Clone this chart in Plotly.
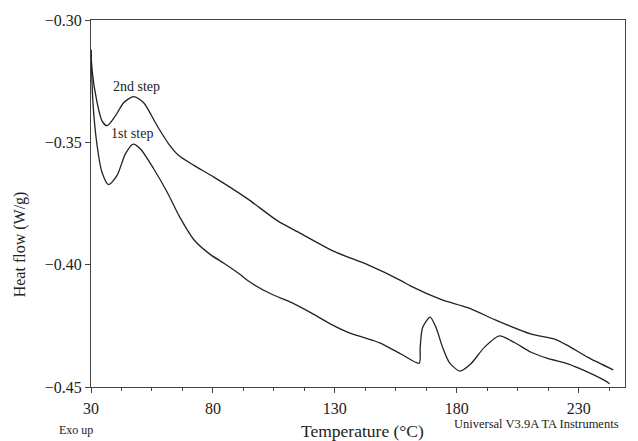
import plotly.graph_objects as go

# Temperature (°C) and heat flow (W/g)
temp_2nd = [30, 30.4, 32.5, 34.5, 36.6, 40.0, 43.4, 47.5, 51.6, 57.1, 61.9, 66.0, 72.2,
            80.4, 94.1, 106.4, 114.6, 129.7, 143.4, 157.1, 161.2, 173.5, 184.5,
            196.8, 210.6, 220.1, 225.6, 233.8, 244.2]
flow_2nd = [-0.3122, -0.3203, -0.3338, -0.3412, -0.3432, -0.3392, -0.3338, -0.3313, -0.3338,
            -0.3432, -0.3507, -0.3554, -0.3594, -0.3642, -0.3730, -0.3820, -0.3865,
            -0.3946, -0.4000, -0.4065, -0.4088, -0.4142, -0.4176, -0.4230, -0.4284, -0.4304,
            -0.4331, -0.4379, -0.4430]

temp_1st = [30, 30.8, 32.5, 34.5, 37.2, 40.7, 44.1, 47.3, 50.3, 55.7, 61.2, 66.7, 72.2,
            79.0, 84.5, 91.3, 94.7, 103.7, 111.9, 120.1, 128.3, 136.5, 146.1, 148.9, 157.1,
            164.6, 165.0, 166.0, 169.1, 171.5, 174.2, 176.9, 181.3, 185.8, 191.3, 197.5,
            203.6, 210.5, 217.3, 225.6, 232.4, 240.6, 242.7]
flow_1st = [-0.3122, -0.3338, -0.3513, -0.3622, -0.3673, -0.3635, -0.3547, -0.3507, -0.3527,
            -0.3608, -0.3703, -0.3811, -0.3898, -0.3959, -0.3994, -0.4041, -0.4068, -0.4119,
            -0.4153, -0.4196, -0.4243, -0.4281, -0.4311, -0.4322, -0.4365, -0.4403, -0.4338,
            -0.4257, -0.4214, -0.4257, -0.4338, -0.4399, -0.4435, -0.4405, -0.4338, -0.4291,
            -0.4318, -0.4358, -0.4383, -0.4405, -0.4433, -0.4473, -0.4487]

x_ticks = [30, 80, 130, 180, 230]
y_ticks = [-0.30, -0.35, -0.40, -0.45]
y_tick_text = ["\u22120.30", "\u22120.35", "\u22120.40", "\u22120.45"]

FONT = "Liberation Serif"
INK = "#222222"
AX = "#444444"

fig = go.Figure()
for t, f, name in [(temp_2nd, flow_2nd, "2nd step"), (temp_1st, flow_1st, "1st step")]:
    fig.add_trace(go.Scatter(x=t, y=f, mode="lines", name=name,
                             line=dict(color=INK, width=1.3, shape="spline", smoothing=0.7),
                             showlegend=False))

fig.update_layout(
    width=638, height=441,
    margin=dict(l=91, r=13, t=17, b=54),
    paper_bgcolor="white", plot_bgcolor="white",
    font=dict(family=FONT, color=INK, size=16),
    xaxis=dict(range=[30, 249], tickvals=x_ticks, ticks="outside", ticklen=5, tickwidth=1,
               tickcolor=AX, showline=True, linecolor=AX, linewidth=1, mirror=True,
               showgrid=False, zeroline=False, tickfont=dict(size=16, family=FONT),
               ticklabelstandoff=2,
               minor=dict(tick0=30, dtick=12.5, ticks="outside", ticklen=3, tickcolor=AX,
                          showgrid=False)),
    yaxis=dict(range=[-0.45, -0.30], tickvals=y_ticks, ticktext=y_tick_text, ticks="outside",
               ticklen=5, tickwidth=1, tickcolor=AX, showline=True, linecolor=AX, linewidth=1,
               mirror=True, showgrid=False, zeroline=False, tickfont=dict(size=16, family=FONT)),
    annotations=[
        dict(text="2nd step", x=48.6, y=-0.3273, xref="x", yref="y", showarrow=False,
             font=dict(size=14, family=FONT, color=INK)),
        dict(text="1st step", x=47.0, y=-0.3462, xref="x", yref="y", showarrow=False,
             font=dict(size=14, family=FONT, color=INK)),
        dict(text="Temperature (\u00b0C)", x=0.5075, y=-0.121, xref="paper", yref="paper",
             xanchor="center", yanchor="middle", showarrow=False,
             font=dict(size=17.5, family=FONT, color=INK)),
        dict(text="Heat flow (W/g)", x=-0.134, y=0.39, xref="paper", yref="paper",
             xanchor="center", yanchor="middle", textangle=-90, showarrow=False,
             font=dict(size=16, family=FONT, color=INK)),
        dict(text="Exo up", x=-0.028, y=-0.118, xref="paper", yref="paper",
             xanchor="center", yanchor="middle", showarrow=False,
             font=dict(size=12, family=FONT, color=INK)),
        dict(text="Universal V3.9A TA Instruments", x=0.834, y=-0.101, xref="paper",
             yref="paper", xanchor="center", yanchor="middle", showarrow=False,
             font=dict(size=12.5, family=FONT, color=INK)),
    ],
)

fig.write_html("out.html")
